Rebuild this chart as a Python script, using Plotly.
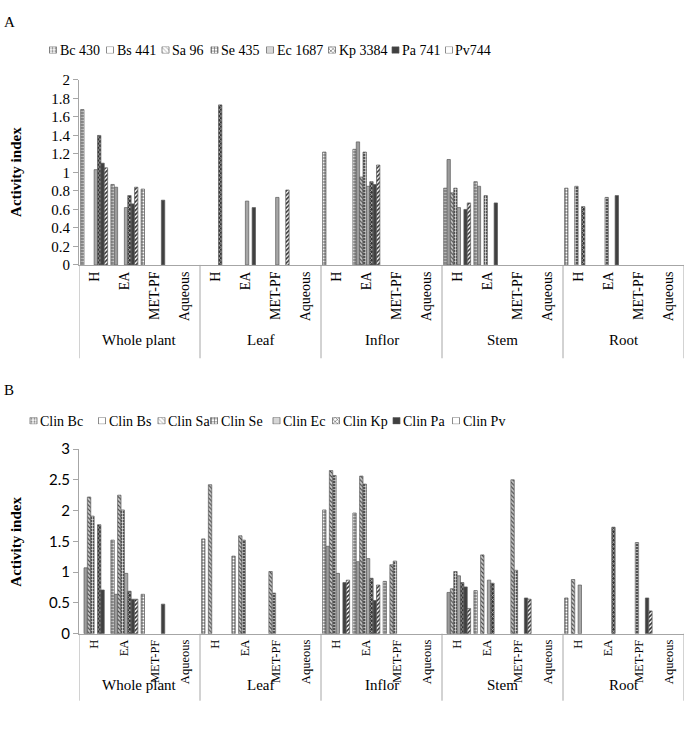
import plotly.graph_objects as go

W, H = 685, 737
N = None

groups = ["Whole plant", "Leaf", "Inflor", "Stem", "Root"]
extracts = ["H", "EA", "MET-PF", "Aqueous"]

# ---- Panel A data (20 categories: group x extract) ----
series_a = ["Bc 430", "Bs 441", "Sa 96", "Se 435", "Ec 1687", "Kp 3384", "Pa 741", "Pv744"]
bc_430 = [1.68, 0.87, 0.82, N,   N, N, N, N,   1.22, 1.25, N, N,   0.83, 0.90, N, N,   0.83, N, N, N]
bs_441 = [N, 0.84, N, N,         N, N, N, N,   N, 1.33, N, N,      1.14, 0.85, N, N,   N, N, N, N]
sa_96 = [N, N, N, N,             N, N, N, N,   N, 0.95, N, N,      0.78, N, N, N,      N, N, N, N]
se_435 = [N, N, N, N,            N, N, N, N,   N, 1.22, N, N,      0.83, 0.75, N, N,   0.85, 0.73, N, N]
ec_1687 = [1.03, 0.62, N, N,     N, 0.69, 0.73, N,  N, 0.85, N, N,  0.62, N, N, N,     N, N, N, N]
kp_3384 = [1.40, 0.75, N, N,     1.73, N, N, N,  N, 0.90, N, N,    N, N, N, N,         0.63, N, N, N]
pa_741 = [1.10, 0.66, 0.70, N,   N, 0.62, N, N,  N, 0.87, N, N,    0.60, 0.67, N, N,   N, 0.75, N, N]
pv_744 = [1.05, 0.84, N, N,      N, N, 0.81, N,  N, 1.08, N, N,    0.67, N, N, N,      N, N, N, N]
values_a = [bc_430, bs_441, sa_96, se_435, ec_1687, kp_3384, pa_741, pv_744]

# ---- Panel B data ----
series_b = ["Clin Bc", "Clin Bs", "Clin Sa", "Clin Se", "Clin Ec", "Clin Kp", "Clin Pa", "Clin Pv"]
clin_bc = [N, 1.52, 0.64, N,     1.54, 1.26, N, N,   2.01, 1.96, 0.85, N,  N, 0.70, N, N,    0.58, N, N, N]
clin_bs = [1.07, 0.64, N, N,     N, N, N, N,         1.42, 1.17, N, N,     0.67, N, N, N,    N, N, N, N]
clin_sa = [2.22, 2.25, N, N,     2.42, 1.59, 1.01, N,  2.65, 2.56, 1.12, N,  0.73, 1.28, 2.50, N,  0.88, N, N, N]
clin_se = [1.91, 2.01, N, N,     N, 1.52, 0.66, N,   2.57, 2.43, 1.18, N,  1.01, N, 1.03, N,  N, N, 1.48, N]
clin_ec = [N, 0.98, N, N,        N, N, N, N,         0.98, 1.22, N, N,     0.94, 0.87, N, N,  0.79, N, N, N]
clin_kp = [1.77, 0.69, N, N,     N, N, N, N,         N, 0.90, N, N,        0.83, 0.82, N, N,  N, 1.73, N, N]
clin_pa = [0.71, 0.56, 0.48, N,  N, N, N, N,         0.83, 0.54, N, N,     0.76, N, 0.58, N,  N, N, 0.58, N]
clin_pv = [N, 0.56, N, N,        N, N, N, N,         0.87, 0.79, N, N,     0.41, N, 0.56, N,  N, N, 0.37, N]
values_b = [clin_bc, clin_bs, clin_sa, clin_se, clin_ec, clin_kp, clin_pa, clin_pv]

# ---- styles (greyscale pattern fills) ----
styles = [
    dict(bg="#7a7a7a", fg="#ffffff", shape=".", size=3, sol=0.4),
    dict(bg="#ffffff", fg="#3a3a3a", shape="-", size=2, sol=0.55),
    dict(bg="#c8c8c8", fg="#404040", shape="\\", size=3, sol=0.35),
    dict(bg="#505050", fg="#ffffff", shape="+", size=3, sol=0.35),
    dict(bg="#8c8c8c", fg="#d8d8d8", shape=".", size=2, sol=0.35),
    dict(bg="#333333", fg="#ffffff", shape="x", size=3, sol=0.3),
    dict(bg="#404040", fg="#404040", shape="", size=3, sol=0.3),
    dict(bg="#ffffff", fg="#2a2a2a", shape="/", size=3, sol=0.5),
]

xcats = list(range(len(groups) * len(extracts)))
ticktext = extracts * len(groups)

fig = go.Figure()

def add_bars(vals_list, names, xa, ya):
    for vals, name, st in zip(vals_list, names, styles):
        fig.add_trace(go.Bar(
            x=xcats, y=vals, name=name, xaxis=xa, yaxis=ya, showlegend=False,
            hoverinfo="skip",
            marker=dict(
                color=st["bg"],
                line=dict(color="#5a5a5a", width=0.7),
                pattern=dict(shape=st["shape"], fgcolor=st["fg"], bgcolor=st["bg"],
                             size=st["size"], solidity=st["sol"], fillmode="replace"),
            ),
        ))

add_bars(values_a, series_a, "x", "y")
add_bars(values_b, series_b, "x2", "y2")

# ---- custom legends (pattern swatches via tiny bar traces) ----
leg_a_x = [53, 110, 165.5, 214.5, 270, 332, 395.5, 449]
leg_b_x = [33.5, 102, 161.5, 214, 276.5, 336, 396.5, 456]
leg_a_txt = [57.5, 114.5, 170, 219, 274.5, 336.5, 400, 453.5]
leg_b_txt = [38, 106.5, 166, 218.5, 281, 340.5, 401, 460.5]

def add_legend(xpos, xa, ya):
    fig.add_trace(go.Bar(
        x=xpos, y=[1] * 8, width=[7] * 8, xaxis=xa, yaxis=ya, showlegend=False,
        hoverinfo="skip",
        marker=dict(
            color=[s["bg"] for s in styles],
            line=dict(color="#5a5a5a", width=0.7),
            pattern=dict(shape=[s["shape"] for s in styles],
                         fgcolor=[s["fg"] for s in styles],
                         bgcolor=[s["bg"] for s in styles],
                         size=[s["size"] for s in styles],
                         solidity=[s["sol"] for s in styles], fillmode="replace"),
        ),
    ))

add_legend(leg_a_x, "x3", "y3")
add_legend(leg_b_x, "x4", "y4")

def py(p):
    return 1 - p / H

serif = "Liberation Serif"
axis_col = "#a6a6a6"

xdom = [79 / W, 684 / W]
common_x = dict(domain=xdom, range=[-0.5, 19.5], tickmode="array", tickvals=xcats,
                ticktext=ticktext, tickangle=-90, showline=True, linecolor=axis_col,
                linewidth=1, ticks="", showgrid=False, zeroline=False)
fig.update_layout(
    width=W, height=H, margin=dict(l=0, r=0, t=0, b=0),
    paper_bgcolor="white", plot_bgcolor="white",
    barmode="group", bargap=0.107, bargroupgap=0,
    xaxis=dict(anchor="y", tickfont=dict(family=serif, size=14, color="#000"), **common_x),
    xaxis2=dict(anchor="y2", tickfont=dict(family=serif, size=12.5, color="#000"), **common_x),
    yaxis=dict(domain=[py(261.3), py(71.7)], range=[0, 2], dtick=0.2, anchor="x",
               showline=True, linecolor=axis_col, ticks="outside", ticklen=5,
               tickcolor=axis_col, showgrid=False, zeroline=False,
               tickfont=dict(family=serif, size=15, color="#000")),
    yaxis2=dict(domain=[py(639.3), py(450)], range=[0, 3], dtick=0.5, anchor="x2",
                showline=True, linecolor=axis_col, ticks="outside", ticklen=5,
                tickcolor=axis_col, showgrid=False, zeroline=False,
                tickfont=dict(family="Lato", size=15, color="#000")),
    xaxis3=dict(domain=[0, 1], range=[0, W], visible=False, anchor="y3"),
    yaxis3=dict(domain=[py(44.5), py(37.5)], range=[0, 1], visible=False, anchor="x3"),
    xaxis4=dict(domain=[0, 1], range=[0, W], visible=False, anchor="y4"),
    yaxis4=dict(domain=[py(424.5), py(417.5)], range=[0, 1], visible=False, anchor="x4"),
)

ann = []
for t, x in zip(series_a, leg_a_txt):
    ann.append(dict(text=t, x=x / W, y=py(41.5), xref="paper", yref="paper",
                    xanchor="left", yanchor="middle", showarrow=False,
                    font=dict(family=serif, size=14, color="#000")))
for t, x in zip(series_b, leg_b_txt):
    ann.append(dict(text=t, x=x / W, y=py(421.5), xref="paper", yref="paper",
                    xanchor="left", yanchor="middle", showarrow=False,
                    font=dict(family=serif, size=14, color="#000")))
ann.append(dict(text="A", x=2 / W, y=py(12), xref="paper", yref="paper", xanchor="left",
                yanchor="middle", showarrow=False, font=dict(family=serif, size=15, color="#000")))
ann.append(dict(text="B", x=2 / W, y=py(390), xref="paper", yref="paper", xanchor="left",
                yanchor="middle", showarrow=False, font=dict(family=serif, size=15, color="#000")))
for yc in (166, 545):
    ann.append(dict(text="<b>Activity index</b>", x=16 / W, y=py(yc), xref="paper", yref="paper",
                    xanchor="center", yanchor="middle", textangle=-90, showarrow=False,
                    font=dict(family=serif, size=15, color="#000")))
for xa, ylab in (("x", 338), ("x2", 692)):
    for gi, g in enumerate(groups):
        ann.append(dict(text=g, x=gi * 4 + 1.5, y=py(ylab), xref=xa, yref="paper",
                        xanchor="center", yanchor="middle", showarrow=False,
                        font=dict(family=serif, size=15, color="#000")))
fig.update_layout(annotations=ann)

shapes = []
for xa, y0, y1 in (("x", 261.3, 357), ("x2", 639.3, 708)):
    for b in range(6):
        xb = b * 4 - 0.5
        shapes.append(dict(type="line", xref=xa, yref="paper", x0=xb, x1=xb,
                           y0=py(y0), y1=py(y1), line=dict(color=axis_col, width=1)))
fig.update_layout(shapes=shapes)

fig.write_html("out.html", config={"displayModeBar": False, "staticPlot": True},
               post_script="document.body.style.margin='0';")
